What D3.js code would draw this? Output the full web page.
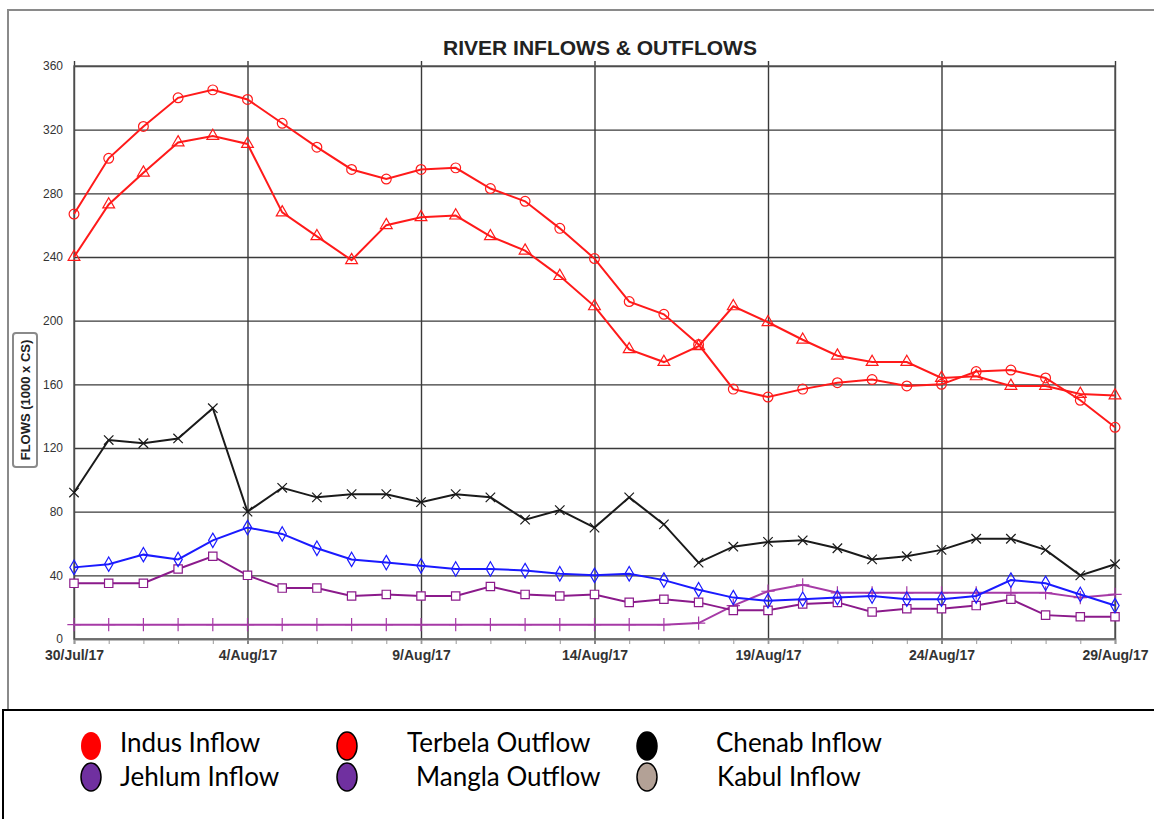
<!DOCTYPE html>
<html>
<head>
<meta charset="utf-8">
<script src="https://cdn.jsdelivr.net/npm/d3@7"></script>
<style>
  body { margin: 0; background: #fff; }
  svg { display: block; }
</style>
</head>
<body>
<div id="chart"></div>
<script>
// days on the x axis (30 Jul 2017 - 29 Aug 2017)
var days = ["2017-07-30","2017-07-31","2017-08-01","2017-08-02","2017-08-03","2017-08-04",
    "2017-08-05","2017-08-06","2017-08-07","2017-08-08","2017-08-09","2017-08-10",
    "2017-08-11","2017-08-12","2017-08-13","2017-08-14","2017-08-15","2017-08-16",
    "2017-08-17","2017-08-18","2017-08-19","2017-08-20","2017-08-21","2017-08-22",
    "2017-08-23","2017-08-24","2017-08-25","2017-08-26","2017-08-27","2017-08-28","2017-08-29"];

// labelled x ticks
var tickDays = ["2017-07-30","2017-08-04","2017-08-09","2017-08-14","2017-08-19","2017-08-24","2017-08-29"];
var tickLabels = ["30/Jul/17","4/Aug/17","9/Aug/17","14/Aug/17","19/Aug/17","24/Aug/17","29/Aug/17"];
var yTicks = [0, 40, 80, 120, 160, 200, 240, 280, 320, 360];

// series values (1000 x cusecs)
var indusInflow = [267,302,322,340,345,339,324,309,295,289,295,296,283,275,258,239,212,204,185,157,152,157,161,163,159,160,168,169,164,150,133];
var terbelaOutflow = [240,273,293,312,316,311,268,253,238,260,265,266,253,244,228,209,182,174,184,209,199,188,178,174,174,164,165,159,159,154,153];
var chenabInflow = [92,125,123,126,145,80,95,89,91,91,86,91,89,75,81,70,89,72,48,58,61,62,57,50,52,56,63,63,56,40,47];
var jehlumInflow = [45,47,53,50,62,70,66,57,50,48,46,44,44,43,41,40,41,37,31,26,24,25,26,27,25,25,27,37,35,28,21];
var manglaOutflow = [35,35,35,44,52,40,32,32,27,28,27,27,33,28,27,28,23,25,23,18,18,22,23,17,19,19,21,25,15,14,14];
var kabulInflow = [9,9,9,9,9,9,9,9,9,9,9,9,9,9,9,9,9,9,10,21,30,34,29,29,29,29,29,29,29,26,28];

// legend entries
var legendNames = ["Indus Inflow","Terbela Outflow","Chenab Inflow","Jehlum Inflow","Mangla Outflow","Kabul Inflow"];
var legendColors = ["#ff0000","#ff0000","#000000","#7030a0","#7030a0","#b3a196"];

var svgWidth = 1154;
var svgHeight = 819;

var margin = { top: 66, right: 39, bottom: 180, left: 74 };
var width = svgWidth - margin.left - margin.right;
var height = svgHeight - margin.top - margin.bottom;

var parseDay = d3.timeParse("%Y-%m-%d");
var dates = days.map(parseDay);

var svg = d3.select("#chart")
    .append("svg")
    .attr("width", svgWidth)
    .attr("height", svgHeight);

// outer frame of the chart
svg.append("path")
    .attr("d", "M8,710 L8,10 L1154,10")
    .attr("fill", "none")
    .attr("stroke", "#8a8a8a")
    .attr("stroke-width", 2);

var chartGroup = svg.append("g")
    .attr("transform", `translate(${margin.left}, ${margin.top})`);

var xScale = d3.scaleTime()
    .domain(d3.extent(dates))
    .range([0, width]);

var yScale = d3.scaleLinear()
    .domain([0, 360])
    .range([height, 0]);

// horizontal grid
chartGroup.append("g")
    .attr("class", "grid")
    .call(d3.axisLeft(yScale).tickValues(yTicks).tickSize(-width).tickFormat(""))
    .call(g => g.select(".domain").remove())
    .selectAll("line")
    .attr("stroke", "#3a3a3a")
    .attr("stroke-width", 1.4);

// vertical grid, every 5 days
chartGroup.append("g")
    .attr("transform", `translate(0, ${height})`)
    .call(d3.axisBottom(xScale).tickValues(tickDays.map(parseDay)).tickSize(-height - 5).tickFormat(""))
    .call(g => g.select(".domain").remove())
    .selectAll("line")
    .attr("y1", 5)
    .attr("stroke", "#3a3a3a")
    .attr("stroke-width", 1.4);

// day ticks under the axis
chartGroup.append("g")
    .attr("transform", `translate(0, ${height})`)
    .call(d3.axisBottom(xScale).tickValues(dates).tickSize(5).tickFormat(""))
    .call(g => g.select(".domain").attr("stroke", "#aaa").attr("stroke-width", 2))
    .selectAll("line")
    .attr("stroke", "#999");

// plot frame
chartGroup.append("rect")
    .attr("width", width)
    .attr("height", height)
    .attr("fill", "none")
    .attr("stroke", "#555")
    .attr("stroke-width", 1.4);

// y axis labels
chartGroup.append("g")
    .call(d3.axisLeft(yScale).tickValues(yTicks).tickSize(0).tickPadding(11))
    .call(g => g.select(".domain").remove())
    .selectAll("text")
    .attr("font-family", "Liberation Sans, Arial, sans-serif")
    .attr("font-size", "12px")
    .attr("fill", "#333");

// x axis labels
chartGroup.append("g")
    .attr("transform", `translate(0, ${height})`)
    .call(d3.axisBottom(xScale).tickValues(tickDays.map(parseDay)).tickSize(0).tickPadding(11)
        .tickFormat((d, i) => tickLabels[i]))
    .call(g => g.select(".domain").remove())
    .selectAll("text")
    .attr("font-family", "Liberation Sans, Arial, sans-serif")
    .attr("font-weight", "bold")
    .attr("font-size", "14px")
    .attr("fill", "#333");

// title
svg.append("text")
    .attr("x", 600)
    .attr("y", 55)
    .attr("text-anchor", "middle")
    .attr("font-family", "Liberation Sans, Arial, sans-serif")
    .attr("font-weight", "bold")
    .attr("font-size", "21px")
    .attr("fill", "#222")
    .text("RIVER INFLOWS & OUTFLOWS");

// y axis title in its little box
svg.append("rect")
    .attr("x", 13)
    .attr("y", 333)
    .attr("width", 24)
    .attr("height", 134)
    .attr("rx", 3)
    .attr("fill", "#fff")
    .attr("stroke", "#8a8a8a")
    .attr("stroke-width", 2);

svg.append("text")
    .attr("transform", "translate(30, 400) rotate(-90)")
    .attr("text-anchor", "middle")
    .attr("font-family", "Liberation Sans, Arial, sans-serif")
    .attr("font-weight", "bold")
    .attr("font-size", "13px")
    .attr("fill", "#222")
    .text("FLOWS (1000 x CS)");

// series setup
var series = [
    { values: indusInflow, color: "#ff1a1a", symbol: d3.symbolCircle, size: 75, fill: "none" },
    { values: terbelaOutflow, color: "#ff1a1a", symbol: d3.symbolTriangle, size: 60, fill: "none" },
    { values: chenabInflow, color: "#1a1a1a", symbol: d3.symbolX, size: 60, fill: "none" },
    { values: jehlumInflow, color: "#1a1aff", symbol: d3.symbolDiamond, size: 60, fill: "none" },
    { values: manglaOutflow, color: "#8b1a8b", symbol: d3.symbolSquare, size: 70, fill: "#fff" },
    { values: kabulInflow, color: "#a63aa6", symbol: d3.symbolPlus, size: 60, fill: "none" }
];

var line = d3.line()
    .x((d, i) => xScale(dates[i]))
    .y(d => yScale(d));

// draw from the back (Kabul) to the front (Indus)
series.slice().reverse().forEach(function(s) {
    var g = chartGroup.append("g");

    g.append("path")
        .datum(s.values)
        .attr("d", line)
        .attr("fill", "none")
        .attr("stroke", s.color)
        .attr("stroke-width", 2);

    g.selectAll("path.mark")
        .data(s.values)
        .enter()
        .append("path")
        .attr("class", "mark")
        .attr("transform", (d, i) => `translate(${xScale(dates[i])}, ${yScale(d)})`)
        .attr("d", d3.symbol().type(s.symbol).size(s.size))
        .attr("fill", s.fill)
        .attr("stroke", s.color)
        .attr("stroke-width", 1.2);
});

// legend box
var legend = svg.append("g");

legend.append("rect")
    .attr("x", 3)
    .attr("y", 710)
    .attr("width", 1170)
    .attr("height", 130)
    .attr("fill", "#fff")
    .attr("stroke", "#000")
    .attr("stroke-width", 2);

var legendX = [91, 347, 647];
var legendTextX = [120, 407, 716, 120, 416, 717];
var legendY = [746, 777];

legendNames.forEach(function(name, i) {
    var col = i % 3;
    var row = Math.floor(i / 3);

    legend.append("ellipse")
        .attr("cx", legendX[col])
        .attr("cy", legendY[row])
        .attr("rx", 10)
        .attr("ry", 14)
        .attr("fill", legendColors[i])
        .attr("stroke", i === 0 ? "none" : "#000")
        .attr("stroke-width", 1.5);

    legend.append("text")
        .attr("x", legendTextX[i])
        .attr("y", legendY[row] + 6 + row * 3)
        .attr("font-family", "Lato, sans-serif")
        .attr("font-size", "26px")
        .attr("fill", "#000")
        .text(name);
});
</script>
</body>
</html>
